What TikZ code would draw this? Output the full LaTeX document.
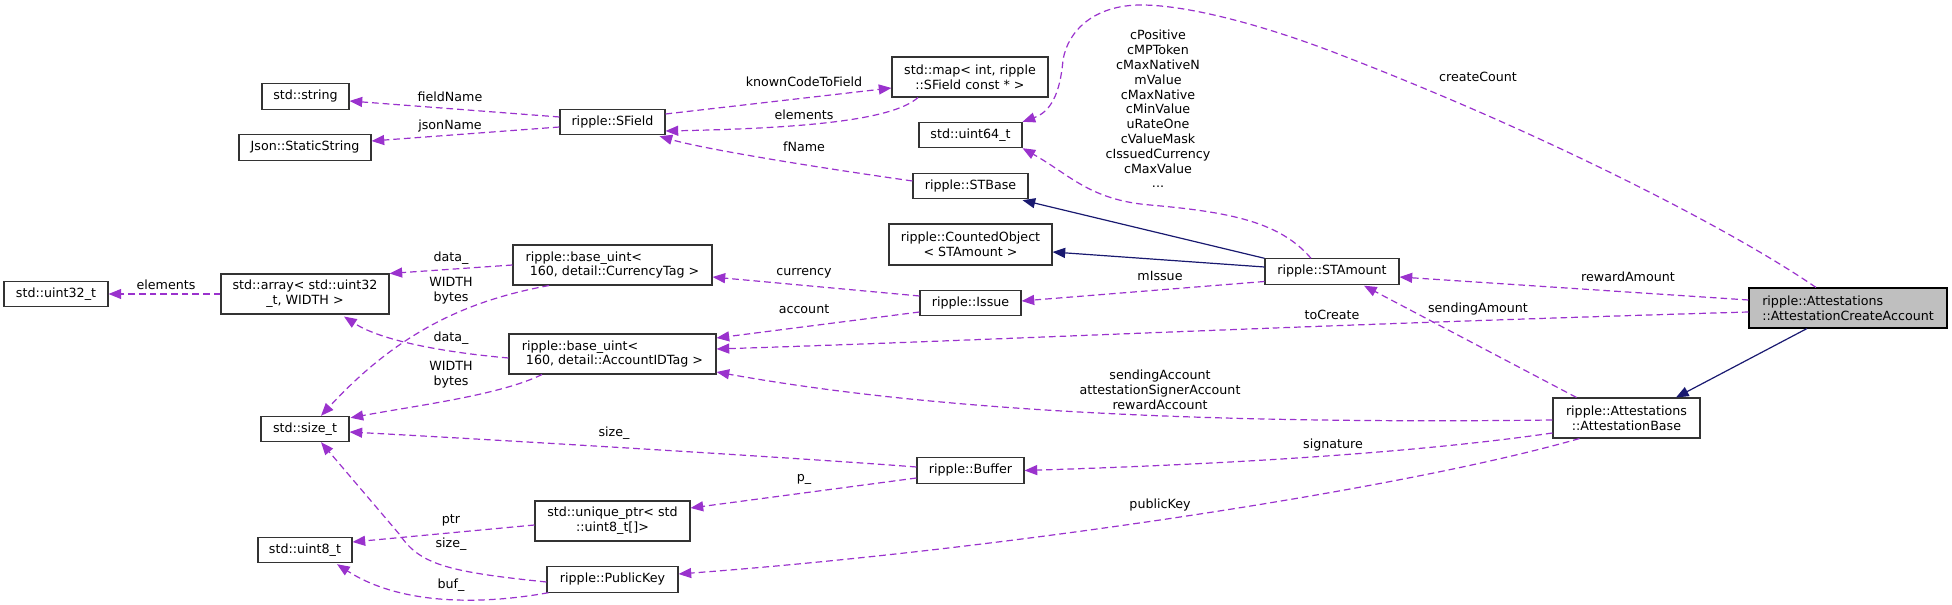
\documentclass[tikz,border=0pt]{standalone}
\usepackage{fontspec}
\setmainfont{DejaVu Sans}
\usetikzlibrary{arrows.meta,calc}
\definecolor{edgep}{HTML}{9A32CD}
\definecolor{navyc}{HTML}{191970}
\definecolor{rootfill}{HTML}{BFBFBF}
\newcommand\dfont{\fontsize{9.5}{11.1}\selectfont}
\tikzset{
  cls/.style={draw=black!80, fill=white, line width=0.8pt, inner sep=0pt, align=center, font=\dfont, minimum height=19pt},
  lbl/.style={inner sep=0pt, align=center, font=\dfont},
  lbls/.style={lbl, text height=6.8pt, text depth=2pt},
  mem/.style={draw=edgep, dash pattern=on 5pt off 3pt, line width=0.9pt, -{Triangle[length=9.5pt,width=7.5pt,fill=edgep]}},
  inh/.style={draw=navyc, line width=0.9pt, -{Triangle[length=9.5pt,width=7.5pt,fill=navyc]}},
}
\begin{document}
\begin{tikzpicture}[x=0.75pt,y=-0.75pt]
\useasboundingbox (0,0) rectangle (1952,605);
% nodes
\node[cls, minimum width=78pt] (uint32) at (56,294) {std::uint32\_t};
\node[cls, minimum width=126pt, minimum height=30pt] (array) at (305,294) {std::array< std::uint32\\\_t, WIDTH >};
\node[cls, minimum width=65.25pt] (string) at (305.5,96.5) {std::string};
\node[cls, minimum width=99pt] (json) at (305,147.5) {Json::StaticString};
\node[cls, minimum width=66pt] (sizet) at (305,429) {std::size\_t};
\node[cls, minimum width=70.5pt] (uint8) at (305,550) {std::uint8\_t};
\node[cls, minimum width=78.75pt] (sfield) at (612.5,122) {ripple::SField};
\node[cls, align=left, minimum width=149.25pt, minimum height=30pt] (currency) at (612.5,265) {ripple::base\_uint<\\\ 160, detail::CurrencyTag >};
\node[cls, align=left, minimum width=155.25pt, minimum height=30pt] (accid) at (612.5,354) {ripple::base\_uint<\\\ 160, detail::AccountIDTag >};
\node[cls, minimum width=116.25pt, minimum height=30pt] (uptr) at (612.5,521) {std::unique\_ptr< std\\::uint8\_t{[]}>};
\node[cls, minimum width=98.25pt] (pubkey) at (612.5,579.5) {ripple::PublicKey};
\node[cls, minimum width=117pt, minimum height=30pt] (map) at (970,77) {std::map< int, ripple\\::SField const * >};
\node[cls, minimum width=77.25pt] (uint64) at (970.5,135) {std::uint64\_t};
\node[cls, minimum width=86.25pt] (stbase) at (970.5,186) {ripple::STBase};
\node[cls, minimum width=122.25pt, minimum height=30.75pt] (counted) at (970.5,244.5) {ripple::CountedObject\\< STAmount >};
\node[cls, minimum width=75.75pt] (issue) at (970.5,303) {ripple::Issue};
\node[cls, minimum width=80.25pt] (buffer) at (970.5,470.5) {ripple::Buffer};
\node[cls, minimum width=100.5pt] (stamount) at (1332,271.5) {ripple::STAmount};
\node[cls, minimum width=110.25pt, minimum height=30pt] (attbase) at (1626.5,418) {ripple::Attestations\\::AttestationBase};
\node[cls, fill=rootfill, draw=black, align=left, minimum width=148.5pt, minimum height=30pt] (attcreate) at (1848,308) {ripple::Attestations\\::AttestationCreateAccount};
% edges
\draw[mem] ($(sfield.west)+(0,-5)$) -- ($(string.east)+(0,4.5)$);
\draw[mem] ($(sfield.west)+(0,5)$) -- ($(json.east)+(0,-6.5)$);
\draw[mem] ($(sfield.east)+(0,-8)$) -- ($(map.west)+(0,11)$);
\draw[mem] ($(map.south)+(-52,0)$) .. controls (895,118) and (820,128) .. ($(sfield.east)+(0,9)$);
\draw[mem] ($(stbase.west)+(0,-5)$) .. controls (800,165) and (700,148) .. ($(sfield.south east)+(-6,1)$);
\draw[inh] (stamount.north west) -- ($(stbase.south east)+(-6,1)$);
\draw[inh] ($(stamount.west)+(0,-4.5)$) -- ($(counted.east)+(0,7.5)$);
\draw[mem] ($(stamount.north)+(-21,0)$) .. controls (1280,222) and (1230,212) .. (1150,205) .. controls (1090,200) and (1070,175) .. (uint64.south east);
\draw[mem] ($(attcreate.north)+(-32,0)$) .. controls (1740,235) and (1560,140) .. (1346,57) .. controls (1270,27) and (1190,5) .. (1141,5) .. controls (1095,5) and (1068,30) .. (1063,60) .. controls (1060,95) and (1050,112) .. (uint64.north east);
\draw[mem] ($(issue.west)+(0,-7)$) -- ($(currency.east)+(0,12)$);
\draw[mem] ($(issue.west)+(0,9)$) -- ($(accid.east)+(0,-16)$);
\draw[mem] ($(stamount.west)+(0,10)$) -- ($(issue.east)+(0,-2)$);
\draw[mem] ($(attcreate.west)+(0,-8)$) -- ($(stamount.east)+(0,5.5)$);
\draw[mem] ($(attcreate.west)+(0,4)$) .. controls (1300,325) and (1000,340) .. ($(accid.east)+(0,-5)$);
\draw[mem] ($(attbase.north)+(-50,0)$) -- ($(stamount.south)+(32,1)$);
\draw[mem] ($(attbase.west)+(0,2)$) .. controls (1150,425) and (900,405) .. ($(accid.east)+(0,18)$);
\draw[mem] ($(attbase.west)+(0,15)$) .. controls (1400,455) and (1200,465) .. (buffer.east);
\draw[mem] ($(attbase.south)+(-47,0)$) .. controls (1400,490) and (1000,550) .. ($(pubkey.east)+(0,-5.5)$);
\draw[inh] ($(attcreate.south)+(-41,0)$) -- ($(attbase.north)+(49.5,0)$);
\draw[mem] ($(buffer.west)+(0,-3.5)$) .. controls (800,458) and (500,440) .. ($(sizet.east)+(0,3)$);
\draw[mem] ($(buffer.west)+(0,7.5)$) -- ($(uptr.east)+(0,-13)$);
\draw[mem] ($(uptr.west)+(0,4)$) -- ($(uint8.east)+(0,-8)$);
\draw[mem] ($(pubkey.west)+(0,2.5)$) .. controls (450,572) and (420,565) .. (400,535) -- ($(sizet.south)+(16,0)$);
\draw[mem] ($(pubkey.south west)+(2,0)$) .. controls (480,605) and (400,605) .. ($(uint8.south)+(32,1)$);
\draw[mem] (currency.west) -- (array.north east);
\draw[mem] ($(currency.south)+(-63.5,0)$) .. controls (470,300) and (400,330) .. ($(sizet.north)+(16,0)$);
\draw[mem] ($(accid.west)+(0,4)$) .. controls (440,352) and (380,340) .. ($(array.south)+(39,2)$);
\draw[mem] ($(accid.south)+(-70.5,0)$) .. controls (500,395) and (420,405) .. ($(sizet.north east)+(1,2)$);
\draw[mem] (array.west) -- (uint32.east);
% labels
\node[lbls] (lfieldName) at (450,98) {fieldName};
\node[lbls] (ljsonName) at (450,126) {jsonName};
\node[lbls] (lknown) at (804,83) {knownCodeToField};
\node[lbls] (lelem1) at (804,116) {elements};
\node[lbls] (lfName) at (804,148) {fName};
\node[lbls] (lelem2) at (166,286) {elements};
\node[lbls] (ldata1) at (451,258) {data\_};
\node[lbl] (lwidth1) at (451,291) {WIDTH\\bytes};
\node[lbls] (ldata2) at (451,338) {data\_};
\node[lbl] (lwidth2) at (451,375) {WIDTH\\bytes};
\node[lbls] (lsize1) at (614,433) {size\_};
\node[lbls] (lptr) at (451,520) {ptr};
\node[lbls] (lsize2) at (451,544) {size\_};
\node[lbls] (lbuf) at (451,585) {buf\_};
\node[lbls] (lcurrency) at (804,272) {currency};
\node[lbls] (laccount) at (804,310) {account};
\node[lbls] (lp) at (804,478) {p\_};
\node[lbls] (lmIssue) at (1160,277) {mIssue};
\node[lbl] (lsendAcc) at (1160,390) {sendingAccount\\attestationSignerAccount\\rewardAccount};
\node[lbls] (lsig) at (1333,445) {signature};
\node[lbls] (lpub) at (1160,505) {publicKey};
\node[lbls] (lcreate) at (1478,78) {createCount};
\node[lbls] (lreward) at (1628,278) {rewardAmount};
\node[lbls] (lsendAmt) at (1478,309) {sendingAmount};
\node[lbls] (ltoCreate) at (1332,316) {toCreate};
\node[lbl] (lbig) at (1158,109) {cPositive\\cMPToken\\cMaxNativeN\\mValue\\cMaxNative\\cMinValue\\uRateOne\\cValueMask\\cIssuedCurrency\\cMaxValue\\...};
\end{tikzpicture}
\end{document}
